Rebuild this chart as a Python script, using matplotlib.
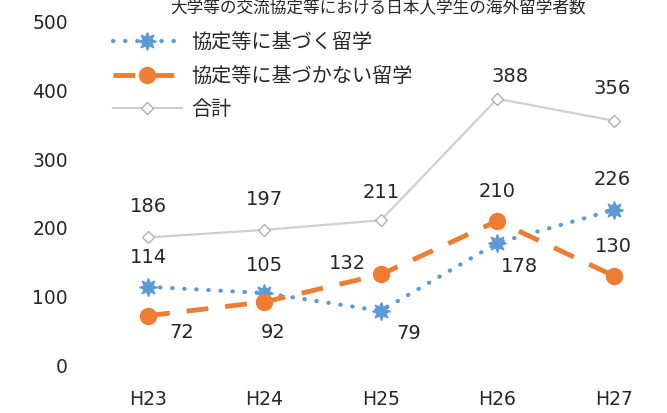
import matplotlib
matplotlib.use("Agg")
import matplotlib.pyplot as plt

plt.rcParams['font.family'] = ['Noto Sans CJK JP', 'DejaVu Sans']

categories = ["H23", "H24", "H25", "H26", "H27"]
based = [114, 105, 79, 178, 226]
not_based = [72, 92, 132, 210, 130]
total = [186, 197, 211, 388, 356]
series_names = ["協定等に基づく留学", "協定等に基づかない留学", "合計"]
title = "大学等の交流協定等における日本人学生の海外留学者数"
yticks = [0, 100, 200, 300, 400, 500]

fig = plt.figure(figsize=(6.67, 4.13), dpi=100)
fig.patch.set_facecolor("white")
ax = fig.add_axes([0.152, 0.116, 0.838, 0.831])
x = list(range(len(categories)))

blue = "#5B9BD5"
orange = "#ED7D31"
gray = "#CFCFCF"
txt = "#262626"

l1, = ax.plot(x, based, color=blue, lw=3, linestyle=(0, (0.1, 2.8)),
              dash_capstyle="round", marker=(8, 1, 0), markersize=13,
              markerfacecolor=blue, markeredgecolor=blue, label=series_names[0], zorder=3)
l2, = ax.plot(x, not_based, color=orange, lw=3.5, linestyle=(0, (4.5, 3.5)),
              marker="o", markersize=11.5, markerfacecolor=orange,
              markeredgecolor=orange, label=series_names[1], zorder=4)
l3, = ax.plot(x, total, color=gray, lw=1.6, marker="D", markersize=6,
              markerfacecolor="white", markeredgecolor="#B0B0B0",
              label=series_names[2], zorder=2)

ax.set_xlim(-0.4, 4.4)
ax.set_ylim(0, 500)
ax.set_yticks(yticks)
ax.set_xticks(x)
ax.set_xticklabels(categories)
for s in ax.spines.values():
    s.set_visible(False)
ax.tick_params(axis="y", length=0, pad=24, labelsize=13.5, labelcolor=txt)
ax.tick_params(axis="x", length=0, pad=18, labelsize=13.5, labelcolor=txt)
for lab in ax.get_yticklabels() + ax.get_xticklabels():
    lab.set_fontfamily("DejaVu Sans")

# data labels: offsets in points (dx, dy)
fs = 14
off_total = [(0, 22), (0, 22), (0, 20), (9, 16), (-1, 23)]
off_based = [(0, 21), (0, 20), (20, -16), (16, -17), (-1, 22)]
off_not = [(24, -12), (6, -22), (-24, 8), (0, 21), (0, 21)]
for i in x:
    for vals, offs in ((total, off_total), (based, off_based), (not_based, off_not)):
        ax.annotate(str(vals[i]), (i, vals[i]), xytext=offs[i], textcoords="offset points",
                    ha="center", va="center", fontsize=fs, color=txt,
                    fontfamily="DejaVu Sans")

leg = ax.legend(handles=[l1, l2, l3], loc="upper left", bbox_to_anchor=(0.021, 0.970),
                frameon=False, fontsize=14.5, handlelength=3.4, labelspacing=0.62,
                handletextpad=0.5, borderaxespad=0.0, borderpad=0.0)
for t in leg.get_texts():
    t.set_color(txt)

fig.text(0.567, 0.999, title, ha="center", va="top", fontsize=12, color=txt)

fig.savefig("out.png", dpi=100, facecolor="white")
